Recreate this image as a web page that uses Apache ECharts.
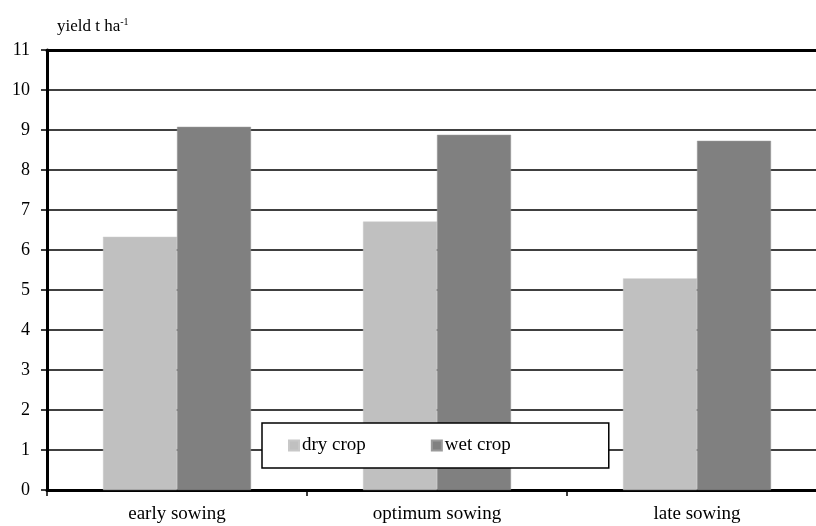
<!DOCTYPE html>
<html>
<head>
<meta charset="utf-8">
<script src="https://cdn.jsdelivr.net/npm/echarts@6/dist/echarts.min.js"></script>
<style>
  html, body { margin: 0; padding: 0; background: #fff; }
  #chart { width: 816px; height: 526px; }
</style>
</head>
<body>
<div id="chart"></div>
<script>
// Sowing dates on the category axis
const categories = ['early sowing', 'optimum sowing', 'late sowing'];
// Yield (t/ha) for each treatment
const dryCrop = [6.33, 6.71, 5.29];
const wetCrop = [9.08, 8.88, 8.73];
// Value axis range
const yMin = 0;
const yMax = 11;
const yStep = 1;

const FONT = '"Liberation Serif", "DejaVu Serif", serif';

const chart = echarts.init(document.getElementById('chart'), null, { renderer: 'canvas' });

chart.setOption({
  animation: false,
  backgroundColor: '#fff',
  textStyle: { fontFamily: FONT, color: '#000' },
  // plot runs past the right edge of the canvas
  grid: { left: 47, width: 780, top: 50, bottom: 36, containLabel: false, outerBoundsMode: 'none' },
  title: {
    text: '{t|yield t ha}{s|-1}',
    left: 52,
    top: 12,
    textStyle: {
      fontWeight: 'normal',
      rich: {
        t: { fontFamily: FONT, fontSize: 17, fontWeight: 'normal', color: '#000', verticalAlign: 'bottom' },
        s: { fontFamily: FONT, fontSize: 10, fontWeight: 'normal', color: '#000', verticalAlign: 'top', padding: [0, 0, 8, 0] }
      }
    }
  },
  legend: {
    data: ['dry crop', 'wet crop'],
    left: 262,
    top: 423,
    icon: 'rect',
    itemWidth: 10,
    itemHeight: 10,
    itemGap: 65,
    padding: [13, 98, 13, 26],
    backgroundColor: '#fff',
    borderColor: '#000',
    borderWidth: 1.5,
    borderRadius: 0,
    z: 10,
    textStyle: { fontFamily: FONT, fontSize: 19, color: '#000', padding: [0, 0, 0, -2] }
  },
  xAxis: [
    {
      type: 'category',
      data: categories,
      position: 'bottom',
      axisLine: { show: true, lineStyle: { color: '#000', width: 3 } },
      axisTick: { show: true, alignWithLabel: false, length: 6, lineStyle: { color: '#000', width: 1.5 } },
      axisLabel: { fontFamily: FONT, fontSize: 19, color: '#000', margin: 15 },
      splitLine: { show: false }
    },
    {
      type: 'category',
      data: categories,
      position: 'top',
      axisLine: { show: true, lineStyle: { color: '#000', width: 3 } },
      axisTick: { show: false },
      axisLabel: { show: false },
      splitLine: { show: false }
    }
  ],
  yAxis: {
    type: 'value',
    min: yMin,
    max: yMax,
    interval: yStep,
    axisLine: { show: true, lineStyle: { color: '#000', width: 3 } },
    axisTick: { show: true, length: 6, lineStyle: { color: '#000', width: 1.5 } },
    axisLabel: { fontFamily: FONT, fontSize: 18, color: '#000', margin: 17 },
    splitLine: { show: true, lineStyle: { color: '#000', width: 1.5 } }
  },
  series: [
    {
      name: 'dry crop',
      type: 'bar',
      data: dryCrop,
      barWidth: 74,
      barGap: '0%',
      itemStyle: { color: '#c0c0c0', borderColor: '#c8c8c8', borderWidth: 0.5 }
    },
    {
      name: 'wet crop',
      type: 'bar',
      data: wetCrop,
      barWidth: 74,
      barGap: '0%',
      itemStyle: { color: '#808080', borderColor: '#9a9a9a', borderWidth: 0.5 }
    }
  ]
});
</script>
</body>
</html>
